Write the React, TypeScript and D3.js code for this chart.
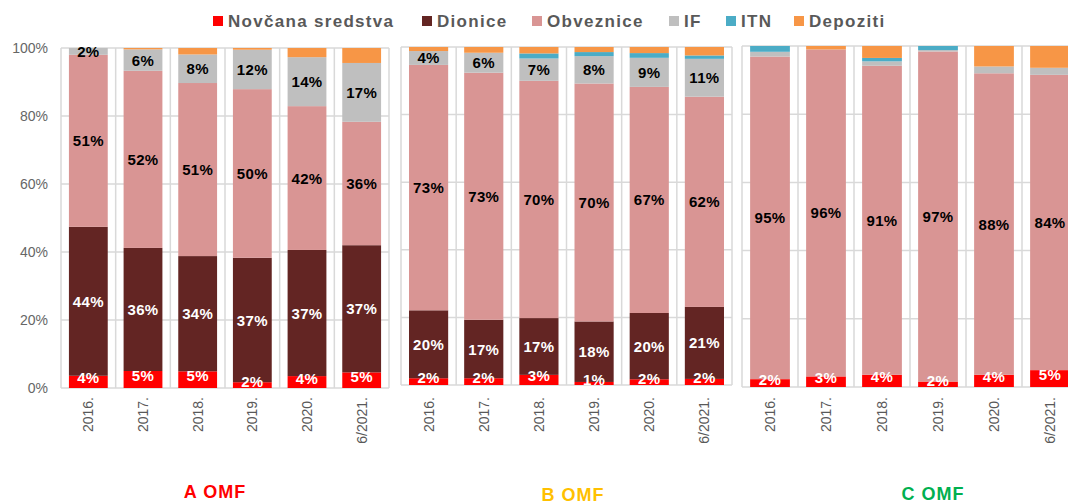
import React from 'react';
import * as d3 from 'd3';

const categories = ['2016.', '2017.', '2018.', '2019.', '2020.', '6/2021.'];
const seriesNames = ['Novčana sredstva', 'Dionice', 'Obveznice', 'IF', 'ITN', 'Depoziti'];
const seriesColors = ['#FF0000', '#632523', '#D99594', '#BFBFBF', '#4BACC6', '#F79646'];
const labelColors = ['#ffffff', '#ffffff', '#000000', '#000000', '#000000', '#000000'];
const yTicks = [0, 0.2, 0.4, 0.6, 0.8, 1];

// A OMF
const aNovcana = [3.6, 5.0, 4.9, 1.7, 3.5, 4.6];
const aDionice = [43.8, 36.2, 33.9, 36.6, 37.1, 37.4];
const aObveznice = [50.6, 52.1, 50.9, 49.6, 42.3, 36.3];
const aIF = [2.0, 6.3, 8.4, 11.6, 14.4, 17.3];
const aITN = [0, 0, 0, 0, 0, 0];
const aDepoziti = [0, 0.4, 1.9, 0.5, 2.7, 4.4];

// B OMF
const bNovcana = [2.0, 2.0, 3.0, 0.9, 1.7, 1.8];
const bDionice = [20.1, 17.3, 16.8, 17.9, 19.6, 21.3];
const bObveznice = [72.6, 73.1, 70.2, 70.4, 66.9, 62.2];
const bIF = [4.1, 5.9, 6.6, 8.1, 8.6, 11.2];
const bITN = [0, 0, 1.5, 1.2, 1.4, 1.0];
const bDepoziti = [1.2, 1.7, 1.9, 1.5, 1.8, 2.5];

// C OMF
const cNovcana = [2.3, 3.1, 3.6, 1.6, 3.6, 4.8];
const cDionice = [0, 0, 0, 0, 0, 0];
const cObveznice = [94.6, 95.9, 90.6, 96.8, 88.4, 84.0];
const cIF = [1.4, 0, 1.3, 0.4, 2.0, 2.0];
const cITN = [1.7, 0, 1.0, 1.2, 0, 0];
const cDepoziti = [0, 1.0, 3.5, 0, 6.0, 6.2];

const FONT = '"Liberation Sans", Arial, sans-serif';
const GRID = '#d9d9d9';

const panels = [
  { title: 'A OMF', titleColor: '#FF0000', titleX: 215, titleY: 498,
    left: 61, right: 389, top: 48, bottom: 388, yAxis: true,
    series: [aNovcana, aDionice, aObveznice, aIF, aITN, aDepoziti], labeled: [0, 1, 2, 3] },
  { title: 'B OMF', titleColor: '#FFC000', titleX: 573, titleY: 501,
    left: 401, right: 732, top: 47, bottom: 385, yAxis: false,
    series: [bNovcana, bDionice, bObveznice, bIF, bITN, bDepoziti], labeled: [0, 1, 2, 3] },
  { title: 'C OMF', titleColor: '#00B050', titleX: 933, titleY: 500,
    left: 742, right: 1078, top: 46, bottom: 387, yAxis: false,
    series: [cNovcana, cDionice, cObveznice, cIF, cITN, cDepoziti], labeled: [0, 2] },
];

const legendX = [213, 422, 532, 669, 726, 794];

function Panel({ p }: { p: any }) {
  const x = d3.scaleBand().domain(categories).range([p.left, p.right]).paddingInner(0.29).paddingOuter(0.145);
  const y = d3.scaleLinear().domain([0, 1]).range([p.bottom, p.top]);
  const rows = categories.map((c, i) => {
    const r: any = { cat: c };
    seriesNames.forEach((s, k) => (r[s] = p.series[k][i]));
    return r;
  });
  const stacked = d3.stack().keys(seriesNames).offset(d3.stackOffsetExpand)(rows);
  const step = x.step();
  const bounds = categories.map((c, i) => p.left + i * step);
  bounds.push(p.right);

  return (
    <g>
      {yTicks.map((t) => (
        <line key={'h' + t} x1={p.left} x2={p.right} y1={y(t)} y2={y(t)} stroke={GRID} strokeWidth={1.5} />
      ))}
      {bounds.map((b, i) => (
        <line key={'v' + i} x1={b} x2={b} y1={p.top} y2={p.bottom} stroke={GRID} strokeWidth={1.5} />
      ))}
      {stacked.map((layer, k) => (
        <g key={layer.key} fill={seriesColors[k]}>
          {layer.map((d: any, i) => (
            <rect key={i} x={x(categories[i])} width={x.bandwidth()}
              y={y(d[1])} height={Math.max(0, y(d[0]) - y(d[1]))} />
          ))}
        </g>
      ))}
      {stacked.map((layer, k) =>
        p.labeled.includes(k)
          ? layer.map((d: any, i) => {
              const v = p.series[k][i];
              if (!v) return null;
              const cy = (y(d[0]) + y(d[1])) / 2 + (k === 0 ? -4 : 0);
              return (
                <text key={layer.key + i} x={x(categories[i])! + x.bandwidth() / 2} y={cy}
                  textAnchor="middle" dominantBaseline="central" fontFamily={FONT}
                  fontWeight="bold" fontSize={15} letterSpacing={0.3} fill={labelColors[k]}>
                  {Math.round(v) + '%'}
                </text>
              );
            })
          : null
      )}
      {p.yAxis &&
        yTicks.map((t) => (
          <text key={'yl' + t} x={48} y={y(t)} textAnchor="end" dominantBaseline="central"
            fontFamily={FONT} fontSize={14} fill="#666666">
            {d3.format('.0%')(t)}
          </text>
        ))}
      {categories.map((c) => (
        <text key={'xl' + c} transform={`translate(${x(c)! + x.bandwidth() / 2},397) rotate(-90)`}
          textAnchor="end" dominantBaseline="central" fontFamily={FONT} fontSize={14} fill="#595959">
          {c}
        </text>
      ))}
      <text x={p.titleX} y={p.titleY} textAnchor="middle" fontFamily={FONT} fontWeight="bold"
        fontSize={18} letterSpacing={1} fill={p.titleColor}>
        {p.title}
      </text>
    </g>
  );
}

export default function App() {
  return (
    <svg width={1068} height={504} style={{ position: 'absolute', left: 0, top: 0, background: '#fff' }}>
      {panels.map((p) => (
        <Panel key={p.title} p={p} />
      ))}
      {seriesNames.map((s, k) => (
        <g key={s}>
          <rect x={legendX[k]} y={16} width={10} height={10} fill={seriesColors[k]} />
          <text x={legendX[k] + 15} y={27} fontFamily={FONT} fontWeight="bold" fontSize={17}
            letterSpacing={1.3} fill="#595959">
            {s}
          </text>
        </g>
      ))}
    </svg>
  );
}
